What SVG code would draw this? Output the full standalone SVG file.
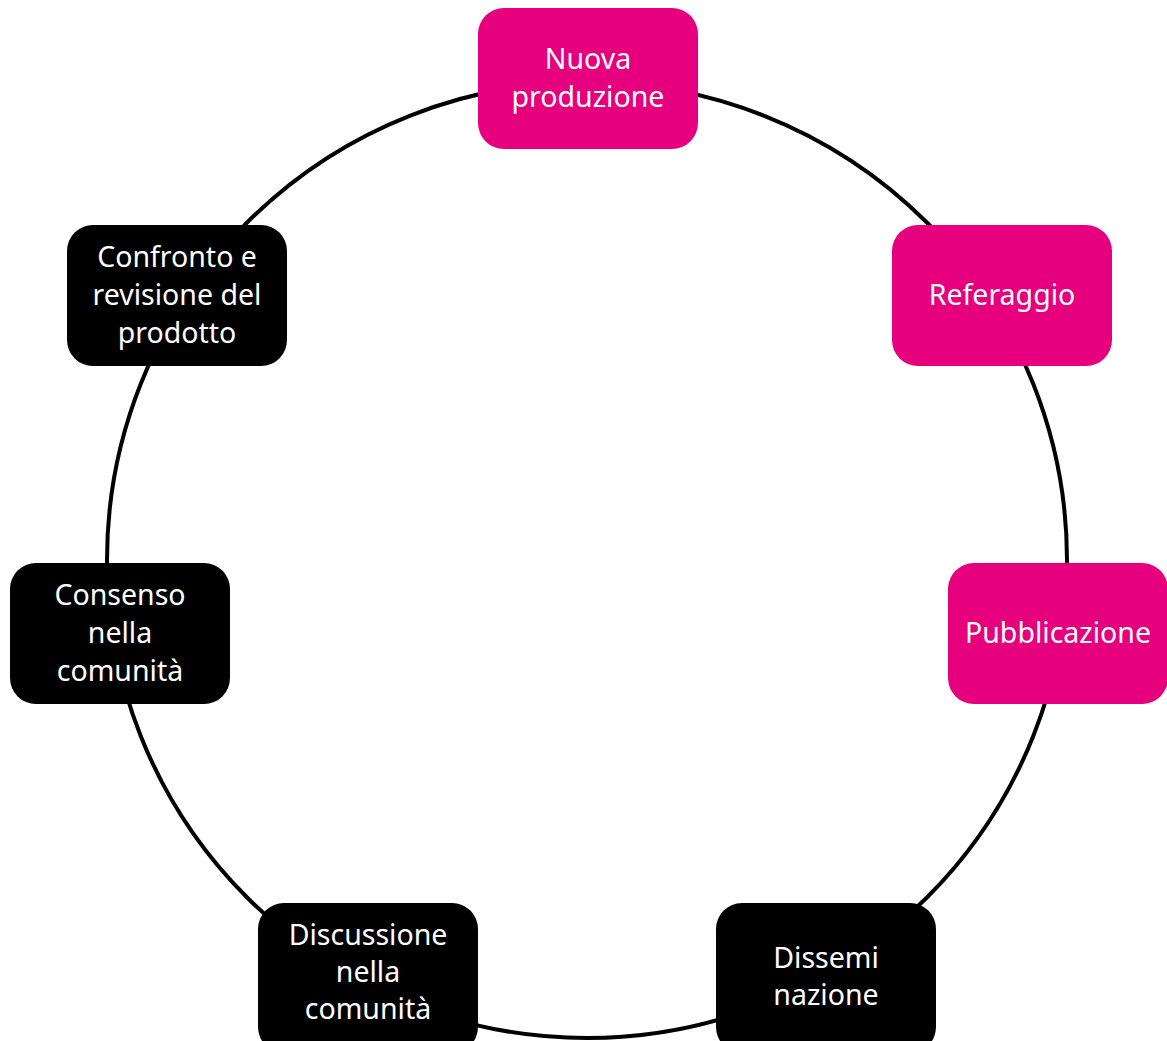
<svg xmlns="http://www.w3.org/2000/svg" width="1167" height="1041" viewBox="0 0 1167 1041">
  <style>
    .ring { fill: none; stroke: #000; stroke-width: 4; }
    .box { stroke: none; }
    .pink { fill: #E6007E; }
    .dark { fill: #000; }
    .label { font-family: "Noto Sans", "Open Sans", sans-serif; font-size: 28.5px; fill: #fff; text-anchor: middle; }
  </style>
  <rect width="1167" height="1041" fill="#fff"/>

  <g id="connectors">
    <ellipse class="ring" cx="587" cy="560" rx="480" ry="478"/>
  </g>

  <g id="node-nuova-produzione">
    <rect class="box pink" x="478" y="8" width="220" height="141" rx="26"/>
    <text class="label" x="588" y="69">Nuova</text>
    <text class="label" x="588" y="107">produzione</text>
  </g>

  <g id="node-referaggio">
    <rect class="box pink" x="892" y="225" width="220" height="141" rx="26"/>
    <text class="label" x="1002" y="305">Referaggio</text>
  </g>

  <g id="node-pubblicazione">
    <rect class="box pink" x="948" y="563" width="220" height="141" rx="26"/>
    <text class="label" x="1058" y="643">Pubblicazione</text>
  </g>

  <g id="node-disseminazione">
    <rect class="box dark" x="716" y="903" width="220" height="150" rx="26"/>
    <text class="label" x="826" y="968">Dissemi</text>
    <text class="label" x="826" y="1005">nazione</text>
  </g>

  <g id="node-discussione">
    <rect class="box dark" x="258" y="903" width="220" height="150" rx="26"/>
    <text class="label" x="368" y="945">Discussione</text>
    <text class="label" x="368" y="982">nella</text>
    <text class="label" x="368" y="1019">comunità</text>
  </g>

  <g id="node-consenso">
    <rect class="box dark" x="10" y="563" width="220" height="141" rx="26"/>
    <text class="label" x="120" y="605">Consenso</text>
    <text class="label" x="120" y="643">nella</text>
    <text class="label" x="120" y="681">comunità</text>
  </g>

  <g id="node-confronto">
    <rect class="box dark" x="67" y="225" width="220" height="141" rx="26"/>
    <text class="label" x="177" y="267">Confronto e</text>
    <text class="label" x="177" y="305">revisione del</text>
    <text class="label" x="177" y="343">prodotto</text>
  </g>
</svg>
